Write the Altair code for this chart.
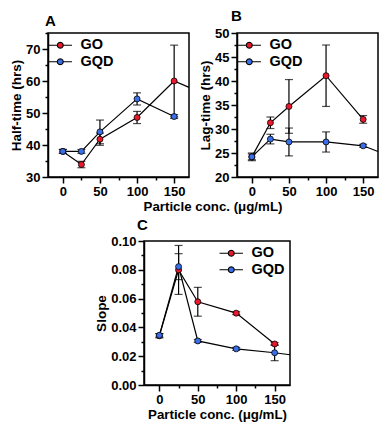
import altair as alt
import pandas as pd

# ---- data ----
conc = [0, 25, 50, 100, 150]
series = ["GO", "GQD"]
# where a series' line runs on past 150 to the right edge of the plot (x = 170)
edge_conc = 170

half_go = [38.0, 33.9, 41.8, 48.6, 60.0]
half_go_err = [0.6, 1.0, 1.9, 1.9, 11.2]
half_go_edge = 58.0
half_gqd = [38.0, 38.0, 44.1, 54.4, 48.9]
half_gqd_err = [0.6, 0.6, 3.7, 1.9, 0.6]

lag_go = [24.2, 31.3, 34.7, 41.1, 32.0]
lag_go_err = [0.6, 1.2, 5.6, 6.4, 0.8]
lag_gqd = [24.2, 27.9, 27.3, 27.3, 26.5]
lag_gqd_err = [0.8, 1.0, 2.9, 2.1, 0.3]
lag_gqd_edge = 25.3

slope_go = [0.0342, 0.0799, 0.0578, 0.0499, 0.0285]
slope_go_err = [0.0015, 0.017, 0.010, 0.001, 0.001]
slope_gqd = [0.0345, 0.0822, 0.0306, 0.0251, 0.0224]
slope_gqd_err = [0.0012, 0.009, 0.001, 0.001, 0.0055]
slope_gqd_edge = 0.0210

colors = ["#e8192c", "#3a6fe8"]
FONT = "Liberation Sans"
XTITLE = "Particle conc. (\u03bcg/mL)"
W_TOP, W_C, H = 141, 146, 144


def frame(go, go_err, gqd, gqd_err, go_edge=None, gqd_edge=None):
    rows = []
    for name, vals, errs, edge in (("GO", go, go_err, go_edge),
                                   ("GQD", gqd, gqd_err, gqd_edge)):
        for c, v, e in zip(conc, vals, errs):
            rows.append({"conc": c, "value": v, "series": name,
                         "lo": v - e, "hi": v + e, "pt": 1})
        if edge is not None:
            rows.append({"conc": edge_conc, "value": edge, "series": name,
                         "lo": edge, "hi": edge, "pt": 0})
    return pd.DataFrame(rows)


# legend glyph: short line with a circle (12-gon) in the middle
_circ = [(1.0, 0.0), (0.866, 0.5), (0.5, 0.866), (0.0, 1.0), (-0.5, 0.866),
         (-0.866, 0.5), (-1.0, 0.0), (-0.866, -0.5), (-0.5, -0.866),
         (0.0, -1.0), (0.5, -0.866), (0.866, -0.5)]
LEGEND_PATH = ("M-3.9,0L-1,0M1,0L3.9,0M" +
               "L".join(f"{a},{b}" for a, b in _circ) + "Z")


def panel(df, letter, ydom, yvals, ylabel_test, ytitle, yfmt,
          xtitle, legend_orient, title_dx, title_offset, width):
    xaxis = alt.Axis(values=[0, 25, 50, 75, 100, 125, 150],
                     labelExpr="datum.value % 50 === 0 ? datum.label : ''",
                     labelFontSize={"condition": {"test": "datum.value % 50 === 0", "value": 13}, "value": 0},
                     labelOverlap=False, labelPadding=2, titlePadding=1,
                     titleFontSize=13.3,
                     tickSize={"condition": {"test": "datum.value % 50 === 0", "value": 6}, "value": 3},
                     title=XTITLE if xtitle else None)
    yaxis = alt.Axis(values=yvals, title=ytitle, format=yfmt,
                     labelOverlap=False, labelPadding=2, titlePadding=2,
                     labelExpr=f"({ylabel_test}) ? datum.label : ''",
                     labelFontSize={"condition": {"test": ylabel_test, "value": 13}, "value": 0},
                     tickSize={"condition": {"test": ylabel_test, "value": 6}, "value": 3})
    xs = alt.Scale(domain=[-20, 170], nice=False, zero=False)
    ys = alt.Scale(domain=ydom, nice=False, zero=False)
    base = alt.Chart(df)
    pts_base = base.transform_filter("datum.pt == 1")
    line = base.mark_line(color="black", strokeWidth=1.2).encode(
        x=alt.X("conc:Q", scale=xs, axis=xaxis),
        y=alt.Y("value:Q", scale=ys, axis=yaxis), detail="series:N")
    rule = pts_base.mark_rule(color="black", strokeWidth=1.2).encode(
        x=alt.X("conc:Q", scale=xs, axis=xaxis),
        y=alt.Y("lo:Q", scale=ys, axis=yaxis), y2="hi:Q")
    cap_lo = pts_base.mark_tick(color="black", orient="horizontal", size=8,
                                thickness=1.2).encode(
        x=alt.X("conc:Q", scale=xs, axis=xaxis),
        y=alt.Y("lo:Q", scale=ys, axis=yaxis))
    cap_hi = pts_base.mark_tick(color="black", orient="horizontal", size=8,
                                thickness=1.2).encode(
        x=alt.X("conc:Q", scale=xs, axis=xaxis),
        y=alt.Y("hi:Q", scale=ys, axis=yaxis))
    pts = pts_base.mark_point(filled=True, size=36, stroke="black", strokeWidth=0.8,
                              opacity=1).encode(
        x=alt.X("conc:Q", scale=xs, axis=xaxis),
        y=alt.Y("value:Q", scale=ys, axis=yaxis),
        fill=alt.Fill("series:N",
                      scale=alt.Scale(domain=series, range=colors),
                      legend=alt.Legend(title=None, orient=legend_orient, offset=5,
                                        direction="vertical",
                                        symbolType=LEGEND_PATH, symbolSize=36,
                                        symbolStrokeColor="black",
                                        symbolStrokeWidth=1.1,
                                        labelFont=FONT, labelFontSize=14.5,
                                        labelFontWeight="bold", labelColor="black",
                                        labelOffset=13, rowPadding=1.5, padding=0)))
    return alt.layer(line, rule, cap_lo, cap_hi, pts).properties(
        width=width, height=H,
        title=alt.TitleParams(letter, anchor="start", frame="group", dx=title_dx,
                              offset=title_offset, font=FONT, fontSize=15,
                              fontWeight="bold", color="black"))


dfA = frame(half_go, half_go_err, half_gqd, half_gqd_err, go_edge=half_go_edge)
dfB = frame(lag_go, lag_go_err, lag_gqd, lag_gqd_err, gqd_edge=lag_gqd_edge)
dfC = frame(slope_go, slope_go_err, slope_gqd, slope_gqd_err, gqd_edge=slope_gqd_edge)

A = panel(dfA, "A", [30, 75], list(range(30, 76, 5)), "datum.value % 10 === 0",
          "Half-time (hrs)", "d", False, "top-left", -3, 3, W_TOP)
B = panel(dfB, "B", [20, 50], [20 + 2.5 * i for i in range(13)],
          "datum.value % 5 === 0", "Lag-time (hrs)", "d", False, "top-left", -6, 3, W_TOP)
C = panel(dfC, "C", [0, 0.1], [round(0.01 * i, 2) for i in range(11)],
          "round(datum.value * 100) % 2 === 0", "Slope", ".2f", True,
          "top-right", -7, 2, W_C)

spacer = alt.Chart(pd.DataFrame({"conc": [0]})).mark_point(opacity=0).encode(
    x=alt.X("conc:Q", axis=None), y=alt.Y("conc:Q", axis=None)
).properties(width=44, height=10, view=alt.ViewBackground(stroke="transparent"))

top = alt.hconcat(A, B, spacing=4).resolve_scale(
    fill="independent").resolve_legend(fill="independent").properties(
    title=alt.TitleParams(XTITLE, orient="bottom", anchor="middle", dx=18,
                          offset=1, font=FONT, fontSize=13.3, fontWeight="bold",
                          color="black"))
bottom = alt.hconcat(spacer, C, spacing=0).resolve_scale(
    fill="independent").resolve_legend(fill="independent")
chart = alt.vconcat(top, bottom, spacing=3).resolve_scale(
    fill="independent").resolve_legend(fill="independent").properties(
    padding=0, background="white"
).configure_view(stroke="black", strokeWidth=1.5).configure_axis(
    domainColor="black", domainWidth=1.5, tickColor="black", tickWidth=1.5,
    labelFont=FONT, labelFontWeight="bold", labelColor="black",
    titleFont=FONT, titleFontWeight="bold", titleFontSize=13.5,
    titleColor="black", grid=False, labelOverlap=False
)

chart.save("out.html", embed_options={"renderer": "svg", "actions": False})
